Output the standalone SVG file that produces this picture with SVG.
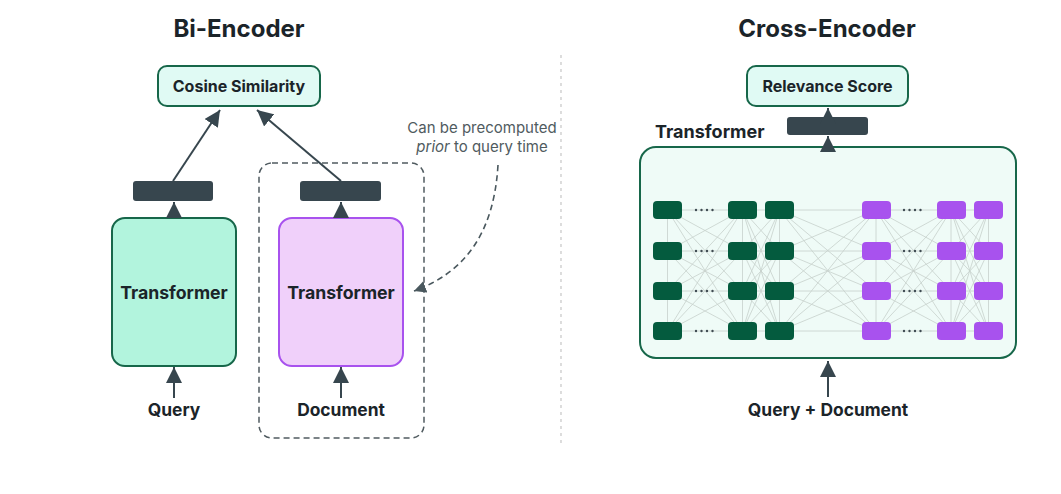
<svg xmlns="http://www.w3.org/2000/svg" width="1061" height="494" viewBox="0 0 1061 494">
<style>
.t{font-family:Inter,"Liberation Sans",sans-serif;fill:#1b2429;font-weight:700}
.title{font-size:24px}
.lbl{font-size:16px}
.in{font-size:17.4px}
.big{font-size:17.7px}
.note{font-family:Inter,"Liberation Sans",sans-serif;font-size:15px;fill:#505b60}
.box{fill:#e0faf4;stroke:#17674a;stroke-width:2}
.bar{fill:#37464e}
.ar{stroke:#37464e;stroke-width:2;fill:none;marker-end:url(#ah)}
.g{fill:#045b3e}
.p{fill:#a852ee}
.mesh{fill:none;stroke:#c6d0cb;stroke-width:0.8}
</style>
<defs>
<marker id="ah" markerUnits="userSpaceOnUse" markerWidth="16" markerHeight="16" viewBox="0 0 14 14" refX="14" refY="7" orient="auto">
<path d="M0 0L14 7L0 14z" fill="#37464e"/>
</marker>
<marker id="ah2" markerUnits="userSpaceOnUse" markerWidth="12" markerHeight="12" viewBox="0 0 12 12" refX="12" refY="6" orient="auto">
<path d="M0 0L12 6L0 12z" fill="#4a585e"/>
</marker>
<path id="mesh" class="mesh" vector-effect="non-scaling-stroke" d="M0 210L1 210M0 210L1 251M0 210L1 291M0 210L1 331M0 251L1 210M0 251L1 251M0 251L1 291M0 251L1 331M0 291L1 210M0 291L1 251M0 291L1 291M0 291L1 331M0 331L1 210M0 331L1 251M0 331L1 291M0 331L1 331"/>
</defs>
<rect width="1061" height="494" fill="#ffffff"/>

<text class="t title" x="239" y="37" text-anchor="middle">Bi-Encoder</text>
<text class="t title" x="827" y="37" text-anchor="middle">Cross-Encoder</text>
<line x1="561" y1="55" x2="561" y2="445" stroke="#c6c6c6" stroke-width="1.2" stroke-dasharray="3 4"/>

<g id="cosine">
<rect class="box" x="158" y="66" width="162" height="40" rx="9"/>
<text class="t lbl" x="239" y="91.5" text-anchor="middle">Cosine Similarity</text>
</g>

<g id="precompute-box">
<rect x="259" y="163" width="165" height="275" rx="13" fill="none" stroke="#505b60" stroke-width="1.5" stroke-dasharray="6 4"/>
</g>

<g id="emb-left"><rect class="bar" x="133" y="181" width="80" height="20" rx="3"/></g>
<g id="emb-right"><rect class="bar" x="300" y="181" width="81" height="20" rx="3"/></g>

<g id="transformer-left">
<rect x="112" y="218" width="124" height="148" rx="13" fill="#b2f4dd" stroke="#17674a" stroke-width="2"/>
<text class="t big" x="174" y="299" text-anchor="middle">Transformer</text>
</g>
<g id="transformer-right">
<rect x="279" y="218" width="124" height="148" rx="13" fill="#f0d0fa" stroke="#a852ee" stroke-width="2"/>
<text class="t big" x="341" y="299" text-anchor="middle">Transformer</text>
</g>

<g id="query"><text class="t in" x="174" y="416" text-anchor="middle">Query</text></g>
<g id="document"><text class="t in" x="341" y="416" text-anchor="middle">Document</text></g>

<g id="note">
<text class="note" x="482" y="133" text-anchor="middle">Can be precomputed</text>
<text class="note" x="482" y="152" text-anchor="middle"><tspan font-style="italic">prior</tspan> to query time</text>
</g>

<g id="relevance">
<rect class="box" x="747" y="66" width="161" height="40" rx="9"/>
<text class="t lbl" x="827.5" y="91.5" text-anchor="middle">Relevance Score</text>
</g>
<g id="emb-cross"><rect class="bar" x="787" y="117" width="81" height="18" rx="3"/></g>

<g id="cross-transformer">
<text class="t big" x="655" y="138" style="font-size:18px">Transformer</text>
<rect x="640" y="147" width="376" height="211" rx="16" fill="#effbf7" stroke="#17674a" stroke-width="2"/>
<use href="#mesh" transform="translate(667.5 0) scale(75 1)"/>
<use href="#mesh" transform="translate(742.5 0) scale(37 1)"/>
<use href="#mesh" transform="translate(779.5 0) scale(96.5 1)"/>
<use href="#mesh" transform="translate(876 0) scale(75 1)"/>
<use href="#mesh" transform="translate(951 0) scale(37.5 1)"/>
<path class="mesh" d="M667.5 210V331M742.5 210V331M779.5 210V331M876 210V331M951 210V331M988.5 210V331"/>
<g class="g">
<rect x="653" y="201" width="29" height="18" rx="4"/><rect x="728" y="201" width="29" height="18" rx="4"/><rect x="765" y="201" width="29" height="18" rx="4"/>
<rect x="653" y="242" width="29" height="18" rx="4"/><rect x="728" y="242" width="29" height="18" rx="4"/><rect x="765" y="242" width="29" height="18" rx="4"/>
<rect x="653" y="282" width="29" height="18" rx="4"/><rect x="728" y="282" width="29" height="18" rx="4"/><rect x="765" y="282" width="29" height="18" rx="4"/>
<rect x="653" y="322" width="29" height="18" rx="4"/><rect x="728" y="322" width="29" height="18" rx="4"/><rect x="765" y="322" width="29" height="18" rx="4"/>
</g>
<g class="p">
<rect x="862" y="201" width="29" height="18" rx="4"/><rect x="937" y="201" width="29" height="18" rx="4"/><rect x="974" y="201" width="29" height="18" rx="4"/>
<rect x="862" y="242" width="29" height="18" rx="4"/><rect x="937" y="242" width="29" height="18" rx="4"/><rect x="974" y="242" width="29" height="18" rx="4"/>
<rect x="862" y="282" width="29" height="18" rx="4"/><rect x="937" y="282" width="29" height="18" rx="4"/><rect x="974" y="282" width="29" height="18" rx="4"/>
<rect x="862" y="322" width="29" height="18" rx="4"/><rect x="937" y="322" width="29" height="18" rx="4"/><rect x="974" y="322" width="29" height="18" rx="4"/>
</g>
<g fill="#3f4b52">
<g id="dots"><circle cx="696" cy="210" r="1.2"/><circle cx="701.5" cy="210" r="1.2"/><circle cx="707" cy="210" r="1.2"/><circle cx="712.5" cy="210" r="1.2"/></g>
<use href="#dots" y="41"/><use href="#dots" y="81"/><use href="#dots" y="121"/>
<use href="#dots" x="208"/><use href="#dots" x="208" y="41"/><use href="#dots" x="208" y="81"/><use href="#dots" x="208" y="121"/>
</g>
</g>

<g id="query-doc"><text class="t in" x="828" y="416" text-anchor="middle">Query + Document</text></g>

<g id="connectors">
<line class="ar" x1="173" y1="181" x2="220" y2="110"/>
<line class="ar" x1="341" y1="181" x2="257" y2="110"/>
<line class="ar" x1="174" y1="218" x2="174" y2="202"/>
<line class="ar" x1="341" y1="218" x2="341" y2="202"/>
<line class="ar" x1="174" y1="398" x2="174" y2="367"/>
<line class="ar" x1="341" y1="398" x2="341" y2="367"/>
<line class="ar" x1="828" y1="117" x2="828" y2="108"/>
<line class="ar" x1="828" y1="152" x2="828" y2="136"/>
<line class="ar" x1="828" y1="397" x2="828" y2="361"/>
<path d="M498 165C494 232 466 272 414 291" fill="none" stroke="#4a585e" stroke-width="1.6" stroke-dasharray="6 4" marker-end="url(#ah2)"/>
</g>
</svg>
